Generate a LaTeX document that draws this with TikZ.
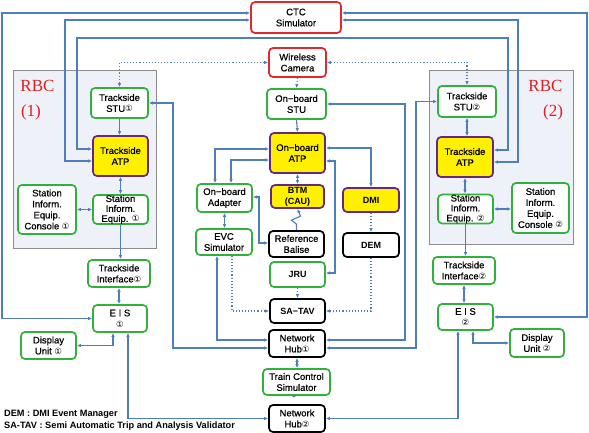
\documentclass[tikz,border=0pt]{standalone}
\usepackage{fontspec}
\setmainfont{Liberation Sans}
\newfontfamily\dvsfont{DejaVu Sans}
\newfontfamily\rbcfont{Liberation Serif}
\newfontfamily\boxfont[FakeBold=0.6]{Liberation Sans}
\usetikzlibrary{arrows.meta}
\newcommand\circnum[1]{{\dvsfont\fontsize{8.5}{8.5}\selectfont #1}}
\definecolor{lineblue}{RGB}{77,126,190}
\definecolor{boxgreen}{RGB}{50,176,60}
\definecolor{boxred}{RGB}{224,40,46}
\definecolor{boxpurple}{RGB}{100,40,130}
\definecolor{boxyellow}{RGB}{255,240,0}
\definecolor{rbcfill}{RGB}{238,242,248}
\definecolor{rbcred}{RGB}{220,30,30}
\tikzset{
  box/.style={draw, rounded corners=4pt, line width=1.7pt, fill=white, align=center,
    inner sep=0pt, font=\boxfont\fontsize{9.5}{11}\selectfont},
  gbox/.style={box, draw=boxgreen},
  rbox/.style={box, draw=boxred},
  ybox/.style={box, draw=boxpurple, fill=boxyellow},
  kbox/.style={box, draw=black},
  bfont/.style={font=\bfseries\fontsize{9}{11}\selectfont},
  sz/.style 2 args={minimum width=#1pt, minimum height=#2pt},
  conn/.style={draw=lineblue, line width=1.1pt},
  one/.style={conn, -{Latex[length=4pt,width=3.5pt]}},
  bi/.style={conn, {Latex[length=4pt,width=3.5pt]}-{Latex[length=4pt,width=3.5pt]}},
  dotone/.style={one, dotted},
  dotbi/.style={bi, dotted},
  rbc/.style={draw=gray!90, line width=1pt, fill=rbcfill},
  rbclabel/.style={text=rbcred, font=\rbcfont\fontsize{17}{17}\selectfont, inner sep=0pt},
  legend/.style={anchor=west, inner sep=0pt, font=\bfseries\fontsize{9.2}{10}\selectfont}
}
\begin{document}
\begin{tikzpicture}[x=1pt,y=-1pt]
\useasboundingbox (0,0) rectangle (589,433);
% RBC areas
\draw[rbc] (13,71) rectangle (156,248);
\draw[rbc] (429,71) rectangle (573,244);
\node[rbclabel] (rbc1a) at (37.5,86) {RBC};
\node[rbclabel] (rbc1b) at (31,112) {(1)};
\node[rbclabel] (rbc2a) at (545.5,86) {RBC};
\node[rbclabel] (rbc2b) at (553,112) {(2)};

% centre column
\node[rbox, sz={90}{31}] (ctc) at (296,17.5) {CTC\\Simulator};
\node[rbox, sz={57}{29}] (cam) at (297.5,62.5) {Wireless\\Camera};
\node[gbox, sz={59}{30}] (ostu) at (296.5,104) {On−board\\STU};
\node[ybox, sz={55}{40}] (oatp) at (297.5,153) {On−board\\ATP};
\node[ybox, bfont, sz={53}{23}] (btm) at (297.5,196.5) {BTM\\(CAU)};
\node[ybox, bfont, sz={56}{24}] (dmi) at (371,200) {DMI};
\node[gbox, sz={55}{28}] (adp) at (224.5,198) {On−board\\Adapter};
\node[gbox, sz={56}{26}] (evc) at (224,242) {EVC\\Simulator};
\node[kbox, sz={55}{26}] (bal) at (296.5,244) {Reference\\Balise};
\node[kbox, bfont, sz={56}{24}] (dem) at (371,245) {DEM};
\node[gbox, bfont, sz={55}{25}] (jru) at (297.5,274.5) {JRU};
\node[kbox, bfont, sz={55}{24}] (sat) at (297.5,311) {SA−TAV};
\node[kbox, sz={56}{27}] (hub1) at (297,343.5) {Network\\Hub\circnum{①}};
\node[gbox, sz={67}{26}] (tcs) at (296.5,382) {Train Control\\Simulator};
\node[kbox, sz={56}{27}] (hub2) at (297,418.5) {Network\\Hub\circnum{②}};

% left side
\node[gbox, sz={57}{30}] (stu1) at (119.5,103) {Trackside\\STU\circnum{①}};
\node[ybox, sz={55}{40}] (atp1) at (120.5,156) {Trackside\\ATP};
\node[gbox, sz={55}{29}, font=\boxfont\fontsize{9.5}{10}\selectfont] (sie1) at (120.5,209.5) {Station\\Inform.\\Equip. \circnum{①}};
\node[gbox, sz={58}{49}] (con1) at (47,209.5) {Station\\Inform.\\Equip.\\Console \circnum{①}};
\node[gbox, sz={62}{27}] (ti1) at (119,273.5) {Trackside\\Interface\circnum{①}};
\node[gbox, sz={54}{27}] (eis1) at (120,318.5) {E I S\\\circnum{①}};
\node[gbox, sz={55}{27}] (du1) at (48.5,345.5) {Display\\Unit \circnum{①}};

% right side
\node[gbox, sz={58}{31}] (stu2) at (467,101.5) {Trackside\\STU\circnum{②}};
\node[ybox, sz={56}{40}] (atp2) at (465,157) {Trackside\\ATP};
\node[gbox, sz={55}{28}, font=\boxfont\fontsize{9.5}{10}\selectfont] (sie2) at (465.5,209) {Station\\Inform.\\Equip. \circnum{②}};
\node[gbox, sz={57}{50}] (con2) at (540.5,208) {Station\\Inform.\\Equip.\\Console \circnum{②}};
\node[gbox, sz={62}{27}] (ti2) at (464,270.5) {Trackside\\Interface\circnum{②}};
\node[gbox, sz={55}{26}] (eis2) at (465.5,317) {E I S\\\circnum{②}};
\node[gbox, sz={54}{28}] (du2) at (537,343) {Display\\Unit \circnum{②}};

% legend
\node[legend] (leg1) at (4,414) {DEM : DMI Event Manager};
\node[legend] (leg2) at (4,426.5) {SA-TAV : Semi Automatic Trip and Analysis Validator};

% long loops around
\draw[bi] ([yshift=4.5pt]ctc.west) -| (2,318.5) -- (eis1.west);
\draw[bi] ([yshift=-2.5pt]ctc.west) -| (65,161) -- ([yshift=-5pt]atp1.west);
\draw[bi] ([yshift=7pt]atp1.west) -| (77,38) -| (508,150) -- ([yshift=7pt]atp2.east);
\draw[bi] ([yshift=-2.5pt]ctc.east) -| (518,162) -- ([yshift=-5pt]atp2.east);
\draw[bi] ([yshift=4.5pt]ctc.east) -| (587,317) -- (eis2.east);

% wireless camera
\draw[dotbi] (cam.west) -| (stu1.north);
\draw[dotbi] (cam.east) -| (stu2.north);
\draw[dotone] (cam.south) -- (ostu.north);

% on-board chain
\draw[one] (ostu.south) -- (oatp.north);
\draw[bi] (oatp.south) -- (btm.north);
\draw[one] (bal.north) -- ++(0,-6) -- ++(-5,-4) -- ++(9,-4) -- (btm.south);
\draw[bi] ([yshift=4pt]oatp.west) -| ([xshift=-9.5pt]adp.north);
\draw[bi] ([yshift=-7pt]oatp.west) -| ([xshift=6.5pt]adp.north);
\draw[bi] ([yshift=5pt]oatp.east) -| (dmi.north);
\draw[bi] ([yshift=-8pt]oatp.east) -| (335,273) -- ([yshift=1.5pt]jru.east);
\draw[bi] (adp.south) -- (adp.south |- evc.north);
\draw[bi] ([yshift=1pt]adp.east) -| (259,243) -- ([yshift=1pt]bal.west);
\draw[dotone] (dmi.south) -- (dem.north);
\draw[dotone] (jru.south) -- (sat.north);
\draw[dotone] ([xshift=8pt]evc.south) |- (sat.west);
\draw[dotone] (dem.south) |- (sat.east);
\draw[bi] (hub1.south) -- (hub1.south |- tcs.north);
\draw[bi] (tcs.south) -- (tcs.south -| hub2.north);

% network hub 1
\draw[bi] (stu1.east) -| (173,348) -- ([yshift=-4.5pt]hub1.west);
\draw[bi] ([xshift=-7pt]evc.south) |- ([yshift=3.5pt]hub1.west);
\draw[bi] (ostu.east) -| (405,340) -- ([yshift=3.5pt]hub1.east);
\draw[bi] (stu2.west) -| (416,348) -- ([yshift=-4.5pt]hub1.east);

% network hub 2
\draw[bi] (hub2.west) -| ([xshift=8pt]eis1.south);
\draw[bi] (hub2.east) -| ([xshift=-7.5pt]eis2.south);

% RBC 1 internals
\draw[one] (stu1.south) -- (stu1.south |- atp1.north);
\draw[bi] (atp1.south) -- (sie1.north);
\draw[bi] (con1.east) -- (con1.east -| sie1.west);
\draw[one] (sie1.south) -- (sie1.south |- ti1.north);
\draw[bi] (ti1.south) -- (ti1.south |- eis1.north);
\draw[bi] ([xshift=-7pt]eis1.south) |- (du1.east);

% RBC 2 internals
\draw[bi] (stu2.south) -- (stu2.south |- atp2.north);
\draw[bi] (atp2.south) -- (atp2.south |- sie2.north);
\draw[bi] (sie2.east) -- (sie2.east -| con2.west);
\draw[one] (sie2.south) -- (sie2.south |- ti2.north);
\draw[bi] (ti2.south) -- (ti2.south |- eis2.north);
\draw[bi] ([xshift=7.5pt]eis2.south) |- (du2.west);
\end{tikzpicture}
\end{document}
